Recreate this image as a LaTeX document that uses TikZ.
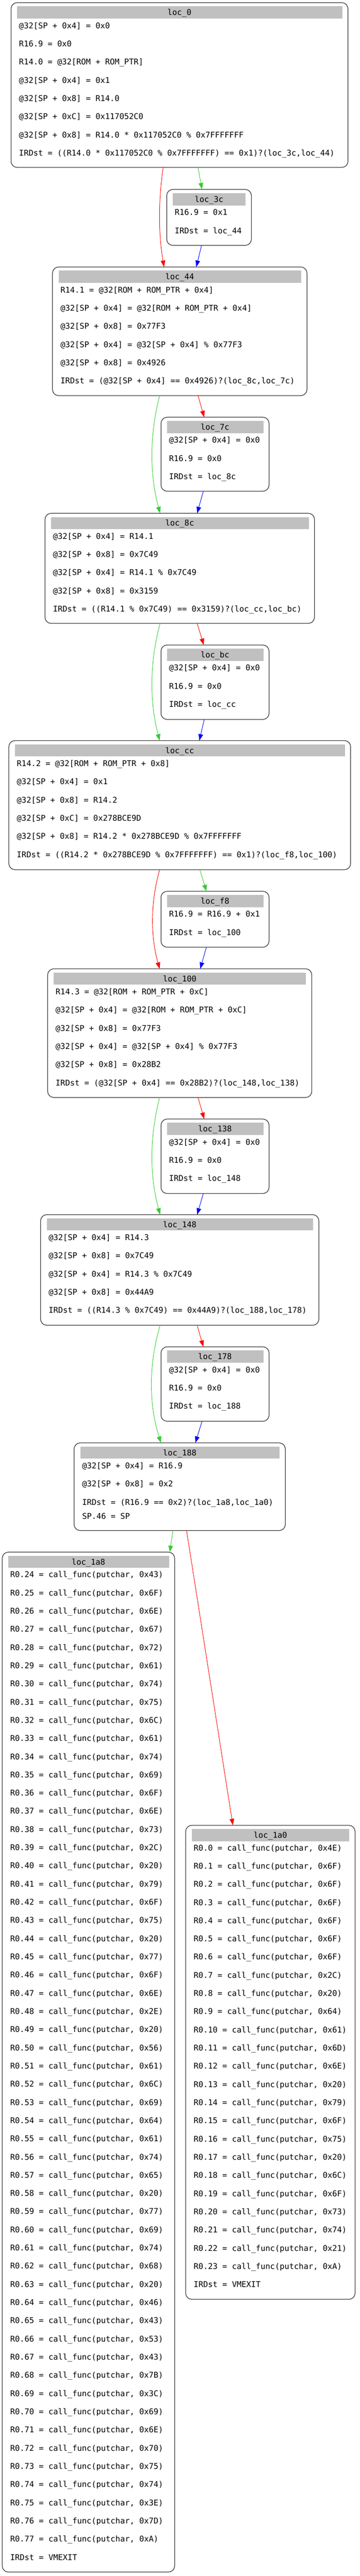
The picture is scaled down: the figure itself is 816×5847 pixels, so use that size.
\documentclass[tikz,border=0pt]{standalone}
\usepackage{fontspec}
\newfontfamily\dvm{DejaVu Sans Mono}
\usetikzlibrary{arrows.meta}
\definecolor{egreen}{RGB}{50,205,50}
\definecolor{hdrgrey}{RGB}{192,192,192}
\definecolor{bordergrey}{RGB}{60,60,60}
\tikzset{
  box/.style={rectangle, draw=bordergrey, line width=1.1pt, fill=white, rounded corners=10.5pt, inner sep=0pt, outer sep=0pt},
  txt/.style={anchor=base west, inner sep=0pt, font=\dvm\fontsize{13.5}{16}\selectfont},
  htxt/.style={anchor=base, inner sep=0pt, font=\dvm\fontsize{13.5}{16}\selectfont},
  edge/.style={line width=0.8pt, -{Triangle[length=11pt,width=7.8pt]}},
}
% name, x1, y1, x2, y2, title
\newcommand\blockbox[6]{%
  \node[box, minimum width={(#4-#2)*0.75pt}, minimum height={(#5-#3)*0.75pt}] (#1) at ({(#2+#4)/2},{(#3+#5)/2}) {};
  \fill[hdrgrey] ({#2+14},{#3+8.5}) rectangle ({#4-13},{#3+36});
  \node[htxt] (#1-title) at ({(#2+#4)/2},{#3+28.75}) {#6};
}
% name, x1, y1, list of lines
\newcommand\blocklines[4]{%
  \foreach \s [count=\i] in {#4} {\node[txt] (#1-\i) at ({#2+18},{#3+58.5+(\i-1)*41.3}) {\s};}
}
\begin{document}
\begin{tikzpicture}[x=0.75pt,y=-0.75pt]
\fill[white] (0,0) rectangle (816,5847);
\useasboundingbox (0,0) rectangle (816,5847);

% loc_0
\blockbox{loc0}{25}{6}{789}{380}{loc\_0}
\blocklines{loc0}{25}{6}{{@32[SP + 0x4] = 0x0},{R16.9 = 0x0},{R14.0 = @32[ROM + ROM\_PTR]},{@32[SP + 0x4] = 0x1},{@32[SP + 0x8] = R14.0},{@32[SP + 0xC] = 0x117052C0},{@32[SP + 0x8] = R14.0 * 0x117052C0 \% 0x7FFFFFFF},{IRDst = ((R14.0 * 0x117052C0 \% 0x7FFFFFFF) == 0x1)?(loc\_3c,loc\_44)}}

% loc_3c
\blockbox{loc3c}{378}{430}{570}{557}{loc\_3c}
\blocklines{loc3c}{378}{430}{{R16.9 = 0x1},{IRDst = loc\_44}}

% loc_44
\blockbox{loc44}{119}{606}{696}{898}{loc\_44}
\blocklines{loc44}{119}{606}{{R14.1 = @32[ROM + ROM\_PTR + 0x4]},{@32[SP + 0x4] = @32[ROM + ROM\_PTR + 0x4]},{@32[SP + 0x8] = 0x77F3},{@32[SP + 0x4] = @32[SP + 0x4] \% 0x77F3},{@32[SP + 0x8] = 0x4926},{IRDst = (@32[SP + 0x4] == 0x4926)?(loc\_8c,loc\_7c)}}

% loc_7c
\blockbox{loc7c}{365}{947}{610}{1115}{loc\_7c}
\blocklines{loc7c}{365}{947}{{@32[SP + 0x4] = 0x0},{R16.9 = 0x0},{IRDst = loc\_8c}}

% loc_8c
\blockbox{loc8c}{102}{1165}{713}{1415}{loc\_8c}
\blocklines{loc8c}{102}{1165}{{@32[SP + 0x4] = R14.1},{@32[SP + 0x8] = 0x7C49},{@32[SP + 0x4] = R14.1 \% 0x7C49},{@32[SP + 0x8] = 0x3159},{IRDst = ((R14.1 \% 0x7C49) == 0x3159)?(loc\_cc,loc\_bc)}}

% loc_bc
\blockbox{locbc}{365}{1464}{610}{1633}{loc\_bc}
\blocklines{locbc}{365}{1464}{{@32[SP + 0x4] = 0x0},{R16.9 = 0x0},{IRDst = loc\_cc}}

% loc_cc
\blockbox{loccc}{20}{1681}{795}{1974}{loc\_cc}
\blocklines{loccc}{20}{1681}{{R14.2 = @32[ROM + ROM\_PTR + 0x8]},{@32[SP + 0x4] = 0x1},{@32[SP + 0x8] = R14.2},{@32[SP + 0xC] = 0x278BCE9D},{@32[SP + 0x8] = R14.2 * 0x278BCE9D \% 0x7FFFFFFF},{IRDst = ((R14.2 * 0x278BCE9D \% 0x7FFFFFFF) == 0x1)?(loc\_f8,loc\_100)}}

% loc_f8
\blockbox{locf8}{365}{2023}{610}{2150}{loc\_f8}
\blocklines{locf8}{365}{2023}{{R16.9 = R16.9 + 0x1},{IRDst = loc\_100}}

% loc_100
\blockbox{loc100}{108}{2199}{707}{2491}{loc\_100}
\blocklines{loc100}{108}{2199}{{R14.3 = @32[ROM + ROM\_PTR + 0xC]},{@32[SP + 0x4] = @32[ROM + ROM\_PTR + 0xC]},{@32[SP + 0x8] = 0x77F3},{@32[SP + 0x4] = @32[SP + 0x4] \% 0x77F3},{@32[SP + 0x8] = 0x28B2},{IRDst = (@32[SP + 0x4] == 0x28B2)?(loc\_148,loc\_138)}}

% loc_138
\blockbox{loc138}{365}{2540}{610}{2709}{loc\_138}
\blocklines{loc138}{365}{2540}{{@32[SP + 0x4] = 0x0},{R16.9 = 0x0},{IRDst = loc\_148}}

% loc_148
\blockbox{loc148}{92}{2757}{723}{3008}{loc\_148}
\blocklines{loc148}{92}{2757}{{@32[SP + 0x4] = R14.3},{@32[SP + 0x8] = 0x7C49},{@32[SP + 0x4] = R14.3 \% 0x7C49},{@32[SP + 0x8] = 0x44A9},{IRDst = ((R14.3 \% 0x7C49) == 0x44A9)?(loc\_188,loc\_178)}}

% loc_178
\blockbox{loc178}{365}{3057}{610}{3226}{loc\_178}
\blocklines{loc178}{365}{3057}{{@32[SP + 0x4] = 0x0},{R16.9 = 0x0},{IRDst = loc\_188}}

% loc_188
\blockbox{loc188}{168}{3275}{647}{3474}{loc\_188}
\blocklines{loc188}{168}{3275}{{@32[SP + 0x4] = R16.9},{@32[SP + 0x8] = 0x2},{IRDst = (R16.9 == 0x2)?(loc\_1a8,loc\_1a0)}}
\node[txt] (loc188-4) at (186,3447.5) {SP.46 = SP};

% loc_1a8
\blockbox{loc1a8}{5}{3523}{396}{5838}{loc\_1a8}
\foreach \h [count=\i from 24] in {43,6F,6E,67,72,61,74,75,6C,61,74,69,6F,6E,73,2C,20,79,6F,75,20,77,6F,6E,2E,20,56,61,6C,69,64,61,74,65,20,77,69,74,68,20,46,43,53,43,7B,3C,69,6E,70,75,74,3E,7D,A}
  {\node[txt] (loc1a8-\i) at (23,{3523+57.5+(\i-24)*41.3}) {R0.\i\ = call\_func(putchar, 0x\h)};}
\node[txt] (loc1a8-end) at (23,{3523+57.5+54*41.3}) {IRDst = VMEXIT};

% loc_1a0
\blockbox{loc1a0}{421}{4143}{805}{5219}{loc\_1a0}
\foreach \h [count=\i from 0] in {4E,6F,6F,6F,6F,6F,6F,2C,20,64,61,6D,6E,20,79,6F,75,20,6C,6F,73,74,21,A}
  {\node[txt] (loc1a0-\i) at (439,{4143+57.5+\i*41.3}) {R0.\i\ = call\_func(putchar, 0x\h)};}
\node[txt] (loc1a0-end) at (439,{4143+57.5+24*41.3}) {IRDst = VMEXIT};

% edges
\draw[edge, egreen] (449,0 |- loc0.south) -- (458,0 |- loc3c.north);
\draw[edge, red] (370,0 |- loc0.south) .. controls (359,455) and (359,530) .. (372,0 |- loc44.north);
\draw[edge, blue] (457,0 |- loc3c.south) -- (445,0 |- loc44.north);

\draw[edge, red] (449,0 |- loc44.south) -- (463,0 |- loc7c.north);
\draw[edge, egreen] (362,0 |- loc44.south) .. controls (339,987) and (339,1076) .. (363,0 |- loc8c.north);
\draw[edge, blue] (461,0 |- loc7c.south) -- (447,0 |- loc8c.north);

\draw[edge, red] (447,0 |- loc8c.south) -- (462,0 |- locbc.north);
\draw[edge, egreen] (363,0 |- loc8c.south) .. controls (339,1504) and (339,1592) .. (362,0 |- loccc.north);
\draw[edge, blue] (463,0 |- locbc.south) -- (452,0 |- loccc.north);

\draw[edge, egreen] (453,0 |- loccc.south) -- (468,0 |- locf8.north);
\draw[edge, red] (362,0 |- loccc.south) .. controls (341,2049) and (341,2124) .. (362,0 |- loc100.north);
\draw[edge, blue] (468,0 |- locf8.south) -- (454,0 |- loc100.north);

\draw[edge, red] (449,0 |- loc100.south) -- (463,0 |- loc138.north);
\draw[edge, egreen] (362,0 |- loc100.south) .. controls (339,2580) and (339,2668) .. (363,0 |- loc148.north);
\draw[edge, blue] (461,0 |- loc138.south) -- (447,0 |- loc148.north);

\draw[edge, red] (447,0 |- loc148.south) -- (461,0 |- loc178.north);
\draw[edge, egreen] (363,0 |- loc148.south) .. controls (337,3097) and (337,3186) .. (365,0 |- loc188.north);
\draw[edge, blue] (458,0 |- loc178.south) -- (443,0 |- loc188.north);

\draw[edge, egreen] (392,0 |- loc188.south) -- (385,0 |- loc1a8.north);
\draw[edge, red] (423,0 |- loc188.south) -- (528,0 |- loc1a0.north);
\end{tikzpicture}
\end{document}
